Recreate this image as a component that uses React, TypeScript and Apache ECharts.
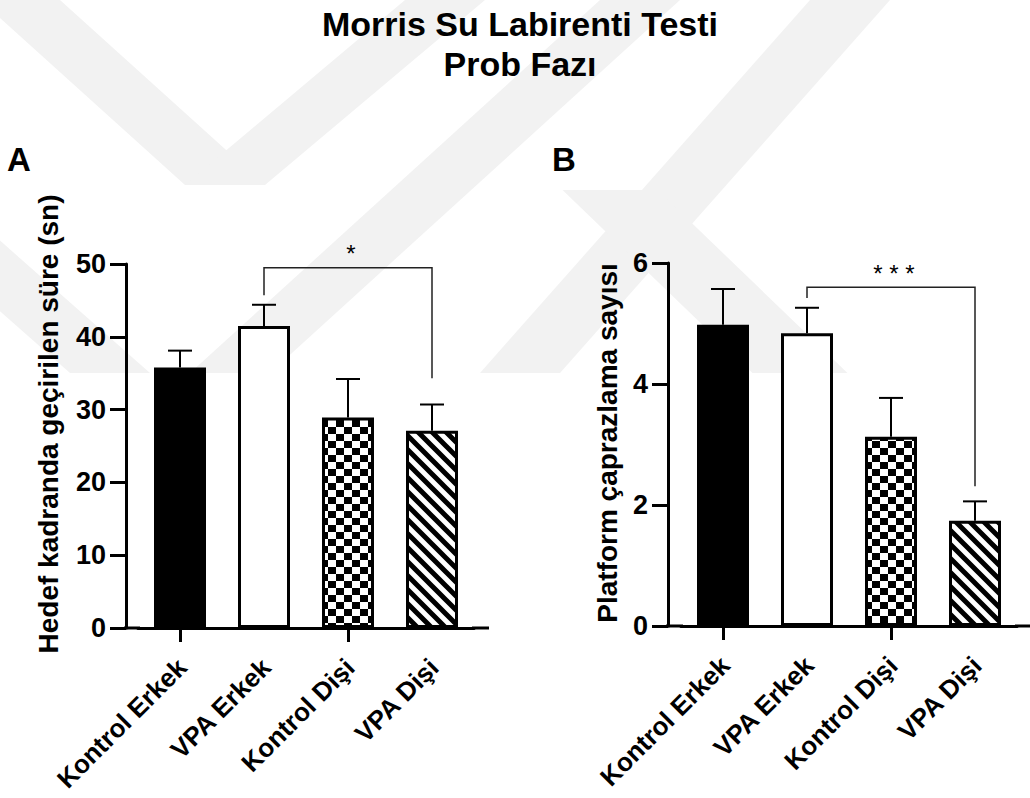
import React, { useEffect, useRef } from 'react';
import * as echarts from 'echarts';

// ---------- data ----------
const categories = ['Kontrol Erkek', 'VPA Erkek', 'Kontrol Dişi', 'VPA Dişi'];
const meanA = [35.8, 41.5, 28.9, 27.1];
const upperA = [38.1, 44.4, 34.2, 30.7];
const meanB = [4.98, 4.84, 3.13, 1.74];
const upperB = [5.57, 5.26, 3.77, 2.06];
const axisA = { min: 0, max: 50, interval: 10 };
const axisB = { min: 0, max: 6, interval: 2 };
// [fromIndex, toIndex, bracketLevel, leftLegEnd, rightLegEnd]
const sigA = [1, 3, 49.5, 45.7, 34.3];
const sigB = [1, 3, 5.6, 5.42, 2.31];
const sigMarkA = '*';
const sigMarkB = '* * *';
const titleLines = ['Morris Su Labirenti Testi', 'Prob Fazı'];
const yTitleA = 'Hedef kadranda geçirilen süre (sn)';
const yTitleB = 'Platform çaprazlama sayısı';
const panelLabels = ['A', 'B'];

const FONT = "'Liberation Sans', Arial, Helvetica, sans-serif";

function makeChecker(): string {
  const c = document.createElement('canvas');
  c.width = 16;
  c.height = 14;
  const ctx = c.getContext('2d')!;
  ctx.fillStyle = '#fff';
  ctx.fillRect(0, 0, 16, 14);
  ctx.fillStyle = '#000';
  ctx.fillRect(0, 0, 8, 7);
  ctx.fillRect(8, 7, 8, 7);
  return c.toDataURL();
}

function makeStripes(): string {
  const P = 14;
  const c = document.createElement('canvas');
  c.width = P;
  c.height = P;
  const ctx = c.getContext('2d')!;
  ctx.fillStyle = '#fff';
  ctx.fillRect(0, 0, P, P);
  ctx.strokeStyle = '#000';
  ctx.lineWidth = 5;
  ctx.beginPath();
  for (const off of [-P, 0, P]) {
    ctx.moveTo(off - 3, -3);
    ctx.lineTo(off + P + 3, P + 3);
  }
  ctx.stroke();
  return c.toDataURL();
}

function errorSeries(axisIdx: number, mean: number[], upper: number[]) {
  return {
    type: 'custom',
    xAxisIndex: axisIdx,
    yAxisIndex: axisIdx,
    silent: true,
    z: 5,
    data: mean.map((m, i) => [i, m, upper[i]]),
    renderItem: (params: any, api: any) => {
      const i = api.value(0);
      const p0 = api.coord([i, api.value(1)]);
      const p1 = api.coord([i, api.value(2)]);
      const st = { stroke: '#000', lineWidth: 2 };
      return {
        type: 'group',
        children: [
          { type: 'line', shape: { x1: p0[0], y1: p0[1], x2: p1[0], y2: p1[1] }, style: st },
          { type: 'line', shape: { x1: p1[0] - 12, y1: p1[1], x2: p1[0] + 12, y2: p1[1] }, style: st },
        ],
      };
    },
  };
}

function bracketSeries(axisIdx: number, sig: number[], mark: string) {
  return {
    type: 'custom',
    xAxisIndex: axisIdx,
    yAxisIndex: axisIdx,
    silent: true,
    z: 6,
    data: [sig],
    renderItem: (params: any, api: any) => {
      const a = api.value(0);
      const b = api.value(1);
      const lv = api.value(2);
      const pL = api.coord([a, api.value(3)]);
      const pTL = api.coord([a, lv]);
      const pTR = api.coord([b, lv]);
      const pR = api.coord([b, api.value(4)]);
      return {
        type: 'group',
        children: [
          {
            type: 'polyline',
            shape: { points: [pL, pTL, pTR, pR] },
            style: { stroke: '#222', lineWidth: 1.5, fill: 'none' },
          },
          {
            type: 'text',
            x: (pTL[0] + pTR[0]) / 2 + 3,
            y: pTL[1] - 14,
            style: {
              text: mark,
              align: 'center',
              verticalAlign: 'middle',
              fontSize: 24,
              fontFamily: FONT,
              fill: '#000',
            },
          },
        ],
      };
    },
  };
}

function labelSeries(axisIdx: number) {
  return {
    type: 'custom',
    xAxisIndex: axisIdx,
    yAxisIndex: axisIdx,
    silent: true,
    clip: false,
    z: 6,
    data: categories.map((_, i) => [i, 0]),
    renderItem: (params: any, api: any) => {
      const i = api.value(0);
      const p = api.coord([i, 0]);
      return {
        type: 'text',
        x: p[0] + 2,
        y: p[1] + 35,
        rotation: Math.PI / 4,
        style: {
          text: categories[i],
          align: 'right',
          verticalAlign: 'middle',
          fontSize: 26,
          fontWeight: 'bold',
          fontFamily: FONT,
          fill: '#000',
        },
      };
    },
  };
}

function buildOption() {
  const fills = ['#000', '#fff', { image: makeChecker(), repeat: 'repeat', imageWidth: 16, imageHeight: 14 }, { image: makeStripes(), repeat: 'repeat', imageWidth: 14, imageHeight: 14 }];
  const grids = [
    { left: 138, top: 264, width: 336, height: 364 },
    { left: 681, top: 263, width: 336, height: 363 },
  ];
  const xAxes = grids.map((_, gi) => ({
    type: 'category',
    gridIndex: gi,
    data: categories,
    axisLine: { show: true, lineStyle: { color: '#000', width: 3 } },
    axisTick: { show: true, alignWithLabel: true, length: 14, lineStyle: { color: '#000', width: 3 } },
    axisLabel: { show: false },
    splitLine: { show: false },
  }));
  const yAxes = [axisA, axisB].map((ax, gi) => ({
    type: 'value',
    gridIndex: gi,
    min: ax.min,
    max: ax.max,
    interval: ax.interval,
    offset: gi === 0 ? 12 : 13,
    axisLine: { show: true, lineStyle: { color: '#000', width: 3 } },
    axisTick: { show: true, length: 16, lineStyle: { color: '#000', width: 3 } },
    axisLabel: { fontSize: 27, fontWeight: 'bold', fontFamily: FONT, color: '#000', margin: 20 },
    splitLine: { show: false },
  }));
  const barSeries = [meanA, meanB].map((vals, gi) => ({
    type: 'bar',
    xAxisIndex: gi,
    yAxisIndex: gi,
    barWidth: 52,
    silent: true,
    data: vals.map((v, i) => ({ value: v, itemStyle: { color: fills[i] } })),
    itemStyle: { borderColor: '#000', borderWidth: 3 },
  }));

  const textStyle = (size: number, weight: string = 'bold') => ({
    fontSize: size,
    fontWeight: weight,
    fontFamily: FONT,
    fill: '#000',
  });

  // faint watermark bands: centre line top->bottom, horizontal width w
  const WM = '#f2f2f2';
  const band = (xT: number, yT: number, xB: number, yB: number, w = 80) => ({
    type: 'polygon',
    z: -10,
    silent: true,
    shape: {
      points: [
        [xT - w / 2, yT],
        [xT + w / 2, yT],
        [xB + w / 2, yB],
        [xB - w / 2, yB],
      ],
    },
    style: { fill: WM },
  });

  const graphic: any[] = [
    band(20, 0, 225, 185),
    band(445, 0, 225, 185),
    band(-120, 170, 110, 373),
    band(640, 0, 230, 373),
    band(850, 0, 520, 373),
    band(610, 190, 800, 373, 95),
    // texts
    { type: 'text', x: 520, y: 24, style: { ...textStyle(34), text: titleLines[0], align: 'center', verticalAlign: 'middle' } },
    { type: 'text', x: 520, y: 64, style: { ...textStyle(34), text: titleLines[1], align: 'center', verticalAlign: 'middle' } },
    { type: 'text', x: 7, y: 159, style: { ...textStyle(33), text: panelLabels[0], align: 'left', verticalAlign: 'middle' } },
    { type: 'text', x: 552, y: 159, style: { ...textStyle(33), text: panelLabels[1], align: 'left', verticalAlign: 'middle' } },
    { type: 'text', x: 48, y: 424, rotation: Math.PI / 2, style: { ...textStyle(28), text: yTitleA, align: 'center', verticalAlign: 'middle' } },
    { type: 'text', x: 607, y: 443, rotation: Math.PI / 2, style: { ...textStyle(28), text: yTitleB, align: 'center', verticalAlign: 'middle' } },
    // x-axis line extensions (GraphPad style)
    { type: 'line', shape: { x1: 124, y1: 628, x2: 140, y2: 628 }, style: { stroke: '#000', lineWidth: 3 } },
    { type: 'line', shape: { x1: 472, y1: 628, x2: 489, y2: 628 }, style: { stroke: '#000', lineWidth: 3 } },
    { type: 'line', shape: { x1: 666, y1: 626, x2: 683, y2: 626 }, style: { stroke: '#000', lineWidth: 3 } },
    { type: 'line', shape: { x1: 1015, y1: 626, x2: 1030, y2: 626 }, style: { stroke: '#000', lineWidth: 3 } },
  ];

  return {
    animation: false,
    backgroundColor: '#fff',
    grid: grids,
    xAxis: xAxes,
    yAxis: yAxes,
    graphic,
    series: [
      ...barSeries,
      errorSeries(0, meanA, upperA),
      errorSeries(1, meanB, upperB),
      bracketSeries(0, sigA, sigMarkA),
      bracketSeries(1, sigB, sigMarkB),
      labelSeries(0),
      labelSeries(1),
    ],
  };
}

export default function App() {
  const ref = useRef<HTMLDivElement>(null);
  useEffect(() => {
    const chart = echarts.init(ref.current!, null, { renderer: 'svg', width: 1030, height: 798 });
    chart.setOption(buildOption() as any);
    return () => chart.dispose();
  }, []);
  return (
    <div
      ref={ref}
      style={{ position: 'fixed', left: 0, top: 0, width: 1030, height: 798, background: '#fff' }}
    />
  );
}
